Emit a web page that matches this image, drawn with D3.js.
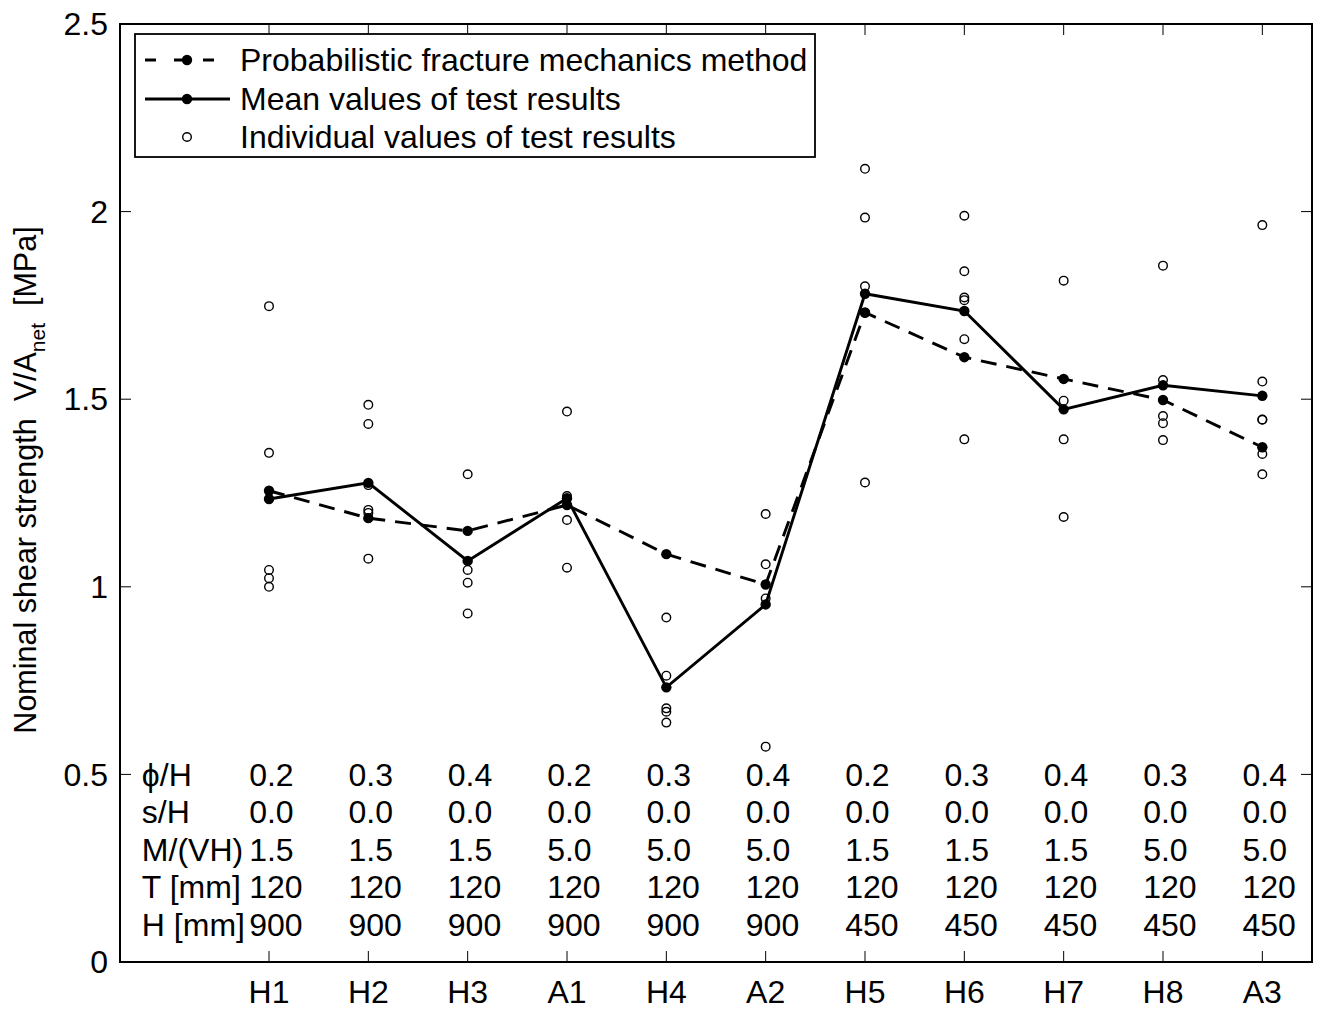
<!DOCTYPE html>
<html>
<head>
<meta charset="utf-8">
<script src="https://cdn.jsdelivr.net/npm/d3@7"></script>
<style>
  body { margin: 0; background: #fff; }
  text { font-family: "Liberation Sans", Arial, Helvetica, sans-serif; fill: #000; }
</style>
</head>
<body>
<div id="chart"></div>
<script>
// specimen names along the x axis
const specimens = ["H1", "H2", "H3", "A1", "H4", "A2", "H5", "H6", "H7", "H8", "A3"];

// probabilistic fracture mechanics prediction
const pfmValues = [1.256, 1.183, 1.149, 1.218, 1.087, 1.006, 1.731, 1.612, 1.554, 1.498, 1.372];
// mean of the tests
const meanValues = [1.234, 1.277, 1.069, 1.236, 0.732, 0.953, 1.781, 1.735, 1.473, 1.537, 1.509];
// every single test result, one list per specimen
const testValues = [
  [1.748, 1.357, 1.045, 1.023, 1.000],
  [1.485, 1.434, 1.271, 1.205, 1.197, 1.075],
  [1.300, 1.045, 1.011, 0.929],
  [1.467, 1.242, 1.178, 1.051],
  [0.918, 0.763, 0.676, 0.667, 0.638],
  [1.194, 1.060, 0.969, 0.574],
  [2.114, 1.984, 1.801, 1.730, 1.278],
  [1.989, 1.841, 1.771, 1.764, 1.660, 1.393],
  [1.816, 1.496, 1.393, 1.186],
  [1.856, 1.551, 1.455, 1.436, 1.391],
  [1.964, 1.547, 1.446, 1.445, 1.354, 1.300]
];

// parameter table printed inside the axes
const phiH = ["0.2", "0.3", "0.4", "0.2", "0.3", "0.4", "0.2", "0.3", "0.4", "0.3", "0.4"];
const sH = ["0.0", "0.0", "0.0", "0.0", "0.0", "0.0", "0.0", "0.0", "0.0", "0.0", "0.0"];
const mVH = ["1.5", "1.5", "1.5", "5.0", "5.0", "5.0", "1.5", "1.5", "1.5", "5.0", "5.0"];
const thick = ["120", "120", "120", "120", "120", "120", "120", "120", "120", "120", "120"];
const height = ["900", "900", "900", "900", "900", "900", "450", "450", "450", "450", "450"];
const rowLabels = ["\u03D5/H", "s/H", "M/(VH)", "T [mm]", "H [mm]"];
const rowLevels = [0.5, 0.4, 0.3, 0.2, 0.1];

const yTicks = [0, 0.5, 1, 1.5, 2, 2.5];

const W = 1319, H = 1010;
const margin = {top: 24, right: 7, bottom: 48, left: 120};
const fs = 32;
const lw = 2.9, mr = 5.2, or = 4.3;

const svg = d3.select("#chart").append("svg")
  .attr("width", W).attr("height", H);

const x = d3.scaleLinear().domain([-0.5, 11.5]).range([margin.left, W - margin.right]);
const y = d3.scaleLinear().domain([0, 2.5]).range([H - margin.bottom, margin.top]);
const xi = i => x(i + 1);

const x0 = x.range()[0], x1 = x.range()[1], y0 = y.range()[0], y1 = y.range()[1];

// ticks, all pointing inwards like matlab
const tickLen = 11;
const g = svg.append("g");
yTicks.forEach(t => {
  g.append("line").attr("x1", x0).attr("x2", x0 + tickLen).attr("y1", y(t)).attr("y2", y(t)).attr("stroke", "#000");
  g.append("line").attr("x1", x1).attr("x2", x1 - tickLen).attr("y1", y(t)).attr("y2", y(t)).attr("stroke", "#000");
  g.append("text").attr("x", x0 - 12).attr("y", y(t)).attr("dy", "0.35em")
    .attr("text-anchor", "end").style("font-size", fs + "px").text(d3.format("~g")(t));
});
specimens.forEach((s, i) => {
  g.append("line").attr("x1", xi(i)).attr("x2", xi(i)).attr("y1", y0).attr("y2", y0 - tickLen).attr("stroke", "#000");
  g.append("line").attr("x1", xi(i)).attr("x2", xi(i)).attr("y1", y1).attr("y2", y1 + tickLen).attr("stroke", "#000");
  g.append("text").attr("x", xi(i)).attr("y", y0 + 30).attr("dy", "0.35em")
    .attr("text-anchor", "middle").style("font-size", fs + "px").text(s);
});

// parameter table
const rows = [phiH, sH, mVH, thick, height];
rows.forEach((row, r) => {
  g.append("text").attr("x", x(-0.28)).attr("y", y(rowLevels[r])).attr("dy", "0.35em")
    .style("font-size", fs + "px").text(rowLabels[r]);
  row.forEach((v, i) => {
    g.append("text").attr("x", x(i + 1 - 0.2)).attr("y", y(rowLevels[r])).attr("dy", "0.35em")
      .style("font-size", fs + "px").text(v);
  });
});

// individual test results
const pts = [];
testValues.forEach((list, i) => list.forEach(v => pts.push({i, v})));
svg.append("g").selectAll("circle").data(pts).enter().append("circle")
  .attr("cx", d => xi(d.i)).attr("cy", d => y(d.v)).attr("r", or)
  .attr("fill", "none").attr("stroke", "#000").attr("stroke-width", 1.4);

const line = d3.line().x((d, i) => xi(i)).y(d => y(d));

// pfm method, dashed
svg.append("path").datum(pfmValues).attr("d", line)
  .attr("fill", "none").attr("stroke", "#000").attr("stroke-width", lw)
  .attr("stroke-dasharray", "16,10");
svg.append("g").selectAll("circle").data(pfmValues).enter().append("circle")
  .attr("cx", (d, i) => xi(i)).attr("cy", d => y(d)).attr("r", mr).attr("fill", "#000");

// mean values, solid
svg.append("path").datum(meanValues).attr("d", line)
  .attr("fill", "none").attr("stroke", "#000").attr("stroke-width", lw);
svg.append("g").selectAll("circle").data(meanValues).enter().append("circle")
  .attr("cx", (d, i) => xi(i)).attr("cy", d => y(d)).attr("r", mr).attr("fill", "#000");

// axes box
svg.append("rect").attr("x", x0).attr("y", y1).attr("width", x1 - x0).attr("height", y0 - y1)
  .attr("fill", "none").attr("stroke", "#000").attr("stroke-width", 2);

// y label with subscript
const yl = svg.append("text").attr("transform", "translate(36,480) rotate(-90)")
  .attr("text-anchor", "middle").style("font-size", "30.5px");
yl.append("tspan").text("Nominal shear strength\u00A0\u00A0V/A");
yl.append("tspan").attr("dy", 9).style("font-size", "21px").text("net");
yl.append("tspan").attr("dy", -9).text("\u00A0\u00A0[MPa]");

// legend
const lg = svg.append("g");
lg.append("rect").attr("x", 135).attr("y", 34).attr("width", 680).attr("height", 123)
  .attr("fill", "#fff").attr("stroke", "#000").attr("stroke-width", 1.8);
const legendRows = [
  {label: "Probabilistic fracture mechanics method", y: 60, type: "dash"},
  {label: "Mean values of test results", y: 99, type: "solid"},
  {label: "Individual values of test results", y: 137, type: "open"}
];
legendRows.forEach(d => {
  if (d.type === "dash") {
    lg.append("line").attr("x1", 145).attr("x2", 230).attr("y1", d.y).attr("y2", d.y)
      .attr("stroke", "#000").attr("stroke-width", lw).attr("stroke-dasharray", "11,18");
    lg.append("circle").attr("cx", 187).attr("cy", d.y).attr("r", mr).attr("fill", "#000");
  } else if (d.type === "solid") {
    lg.append("line").attr("x1", 145).attr("x2", 230).attr("y1", d.y).attr("y2", d.y)
      .attr("stroke", "#000").attr("stroke-width", lw);
    lg.append("circle").attr("cx", 187).attr("cy", d.y).attr("r", mr).attr("fill", "#000");
  } else {
    lg.append("circle").attr("cx", 187).attr("cy", d.y).attr("r", or)
      .attr("fill", "none").attr("stroke", "#000").attr("stroke-width", 1.4);
  }
  lg.append("text").attr("x", 240).attr("y", d.y).attr("dy", "0.35em")
    .style("font-size", fs + "px").text(d.label);
});
</script>
</body>
</html>
